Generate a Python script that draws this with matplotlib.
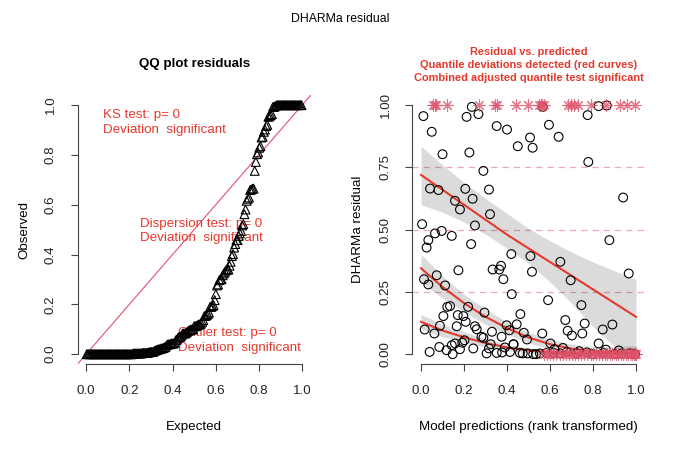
import numpy as np
import matplotlib
matplotlib.use("Agg")
import matplotlib.pyplot as plt

plt.rcParams["font.family"] = ["Liberation Sans", "DejaVu Sans"]

# ---------- data ----------
# residual vs predicted (circles)
pred = [0.011, 0.05, 0.10, 0.212, 0.236, 0.267, 0.225, 0.29, 0.352, 0.40,
        0.45, 0.507, 0.519, 0.566, 0.595, 0.64, 0.775, 0.778, 0.826, 0.864,
        0.94, 0.876, 0.966, 0.042, 0.081, 0.005, 0.034, 0.026, 0.065, 0.096,
        0.143, 0.158, 0.181, 0.206, 0.24, 0.233, 0.251, 0.316, 0.321, 0.174,
        0.073, 0.014, 0.034, 0.112, 0.333, 0.364, 0.372, 0.383, 0.42, 0.509,
        0.516, 0.648, 0.696, 0.422, 0.591, 0.746, 0.462, 0.671, 0.761, 0.89,
        0.845, 0.682, 0.702, 0.75, 0.564, 0.478, 0.493, 0.602, 0.826, 0.122,
        0.135, 0.104, 0.171, 0.197, 0.208, 0.166, 0.088, 0.219, 0.251, 0.259,
        0.295, 0.281, 0.29, 0.33, 0.375, 0.017, 0.062, 0.398, 0.445, 0.411,
        0.43, 0.085, 0.119, 0.143, 0.158, 0.147, 0.181, 0.192, 0.202, 0.04,
        0.243, 0.305, 0.316, 0.324, 0.352, 0.377, 0.39, 0.414, 0.43, 0.46,
        0.473, 0.496, 0.522, 0.535, 0.553, 0.584, 0.616, 0.647, 0.678, 0.724,
        0.771, 0.80, 0.848, 0.902, 0.933, 0.972, 0.995, 0.66, 0.735, 0.62,
        0.86, 0.92]
resid = [0.956, 0.893, 0.803, 0.953, 0.993, 0.964, 0.81, 0.736, 0.916, 0.902,
         0.835, 0.87, 0.829, 0.993, 0.921, 0.873, 0.96, 0.772, 0.996, 0.999,
         0.629, 0.458, 0.324, 0.665, 0.659, 0.522, 0.458, 0.428, 0.485, 0.495,
         0.475, 0.616, 0.581, 0.664, 0.624, 0.442, 0.517, 0.661, 0.562, 0.337,
         0.317, 0.301, 0.28, 0.276, 0.34, 0.34, 0.355, 0.301, 0.402, 0.394,
         0.331, 0.371, 0.297, 0.241, 0.217, 0.197, 0.161, 0.137, 0.123, 0.119,
         0.099, 0.094, 0.075, 0.083, 0.083, 0.086, 0.059, 0.043, 0.043, 0.19,
         0.193, 0.153, 0.157, 0.153, 0.13, 0.112, 0.114, 0.19, 0.112, 0.10,
         0.167, 0.07, 0.066, 0.09, 0.07, 0.099, 0.083, 0.116, 0.12, 0.096,
         0.04, 0.029, 0.016, 0.036, 0.043, 0.0, 0.02, 0.046, 0.056, 0.009,
         0.023, 0.003, 0.023, 0.04, 0.005, 0.007, 0.027, 0.009, 0.039, 0.005,
         0.003, 0.003, 0.0, 0.0, 0.003, 0.005, 0.005, 0.003, 0.009, 0.003,
         0.007, 0.0, 0.005, 0.0, 0.003, 0.003, 0.0, 0.025, 0.012, 0.02,
         0.018, 0.015]

# outliers (red asterisks) at residual 1 and 0
out_top_x = [0.054, 0.064, 0.071, 0.119, 0.271, 0.346, 0.355, 0.44, 0.496,
             0.549, 0.557, 0.564, 0.572, 0.682, 0.696, 0.712, 0.732, 0.789,
             0.859, 0.926, 0.96, 0.997]
out_bot_x = [0.57, 0.585, 0.60, 0.612, 0.63, 0.648, 0.66, 0.675, 0.69, 0.70,
             0.718, 0.73, 0.745, 0.76, 0.772, 0.79, 0.80, 0.815, 0.83, 0.842,
             0.855, 0.866, 0.88, 0.89, 0.905, 0.915, 0.93, 0.94, 0.952, 0.963,
             0.975, 0.983, 0.99, 0.996, 1.0]

# quantile regression curves (0.25, 0.5, 0.75) with their bands
q_x = [0.0, 0.1, 0.2, 0.3, 0.4, 0.5, 0.6, 0.7, 0.8, 0.9, 1.0]
q75 = [0.72, 0.66, 0.60, 0.54, 0.48, 0.425, 0.37, 0.315, 0.26, 0.205, 0.15]
q75_lo = [0.60, 0.57, 0.53, 0.482, 0.425, 0.365, 0.29, 0.205, 0.11, 0.03, 0.01]
q75_hi = [0.835, 0.76, 0.69, 0.625, 0.565, 0.505, 0.455, 0.41, 0.37, 0.335, 0.30]
q50 = [0.345, 0.27, 0.205, 0.15, 0.105, 0.067, 0.04, 0.022, 0.012, 0.008, 0.006]
q50_lo = [0.29, 0.225, 0.17, 0.12, 0.08, 0.046, 0.02, 0.005, 0.0, 0.0, 0.0]
q50_hi = [0.40, 0.315, 0.24, 0.18, 0.13, 0.088, 0.06, 0.04, 0.03, 0.03, 0.035]
q25 = [0.13, 0.095, 0.068, 0.045, 0.027, 0.015, 0.008, 0.005, 0.003, 0.002, 0.002]
q25_lo = [0.10, 0.07, 0.047, 0.028, 0.014, 0.005, 0.0, 0.0, 0.0, 0.0, 0.0]
q25_hi = [0.16, 0.12, 0.09, 0.062, 0.04, 0.025, 0.016, 0.012, 0.012, 0.014, 0.018]

# ---------- colours ----------
RED   = "#E5392D"
PINK  = "#DF536B"
AXC   = "#444444"
FS    = 9.6

fig = plt.figure(figsize=(6.8, 4.49), dpi=100)
ax1 = fig.add_axes([0.114, 0.189, 0.343, 0.599])
ax2 = fig.add_axes([0.6065, 0.189, 0.3415, 0.599])

def r_axes(ax, ticks, fmt):
    ax.set_xlim(-0.04, 1.04)
    ax.set_ylim(-0.04, 1.04)
    for s in ["top", "right"]:
        ax.spines[s].set_visible(False)
    for s in ["left", "bottom"]:
        ax.spines[s].set_color(AXC)
        ax.spines[s].set_linewidth(0.8)
    ax.spines["left"].set_bounds(0, 1)
    ax.spines["bottom"].set_bounds(0, 1)
    ax.set_xticks([0, 0.2, 0.4, 0.6, 0.8, 1.0])
    ax.set_xticklabels(["0.0", "0.2", "0.4", "0.6", "0.8", "1.0"])
    ax.set_yticks(ticks)
    ax.set_yticklabels([fmt % t for t in ticks], rotation=90, va="center")
    ax.tick_params(length=5, width=0.8, color=AXC, labelsize=FS,
                   labelcolor="#222222", pad=10)

# ---------- QQ plot ----------
all_res = np.sort(np.concatenate([resid, np.ones(len(out_top_x)),
                                  np.zeros(len(out_bot_x))]))
n = len(all_res)
expected = (np.arange(1, n + 1) - 0.5) / n

r_axes(ax1, [0, 0.2, 0.4, 0.6, 0.8, 1.0], "%.1f")
ax1.axline((0, 0), (1, 1), color=PINK, lw=0.8, zorder=1)
tkw = dict(color=RED, fontsize=FS, ha="left", va="center", zorder=2,
           linespacing=1.25)
ax1.text(0.076, 0.93, "KS test: p= 0\nDeviation  significant", **tkw)
ax1.text(0.249, 0.495, "Dispersion test: p= 0\nDeviation  significant", **tkw)
ax1.text(0.424, 0.055, "Outlier test: p= 0\nDeviation  significant", **tkw)
ax1.scatter(expected, all_res, marker="^", s=40, facecolors="none",
            edgecolors="black", linewidths=0.8, zorder=3)
ax1.set_xlabel("Expected", fontsize=FS, labelpad=17)
ax1.set_ylabel("Observed", fontsize=FS, labelpad=10)
ax1.set_title("QQ plot residuals", fontsize=FS, fontweight="bold", pad=20)

# ---------- residual vs predicted ----------
r_axes(ax2, [0, 0.25, 0.5, 0.75, 1.0], "%.2f")
for h in [0.25, 0.5, 0.75]:
    ax2.axhline(h, color=PINK, alpha=0.5, lw=0.9, ls=(0, (5, 4)), zorder=1)
for lo, hi in [(q75_lo, q75_hi), (q50_lo, q50_hi), (q25_lo, q25_hi)]:
    ax2.fill_between(q_x, lo, hi, color="black", alpha=0.14, lw=0, zorder=1)
for q in [q75, q50, q25]:
    ax2.plot(q_x, q, color=RED, lw=1.5, zorder=3)
ax2.scatter(pred, resid, marker="o", s=40, facecolors="none",
            edgecolors="black", linewidths=0.8, zorder=4)
ax2.scatter(out_top_x, np.ones(len(out_top_x)), marker=(8, 2, 0), s=65,
            color=PINK, alpha=0.8, linewidths=0.8, zorder=5)
ax2.scatter(out_bot_x, np.zeros(len(out_bot_x)), marker=(8, 2, 0), s=65,
            color=PINK, alpha=0.8, linewidths=0.8, zorder=5)
ax2.set_xlabel("Model predictions (rank transformed)", fontsize=FS, labelpad=17)
ax2.set_ylabel("DHARMa residual", fontsize=FS, labelpad=11)
ax2.set_title("Residual vs. predicted\nQuantile deviations detected (red curves)\n"
              "Combined adjusted quantile test significant",
              fontsize=7.9, fontweight="bold", color=RED, pad=10, linespacing=1.38)

fig.text(0.5, 0.958, "DHARMa residual", ha="center", va="center", fontsize=8.8)

fig.savefig("out.png", dpi=100, facecolor="white")
